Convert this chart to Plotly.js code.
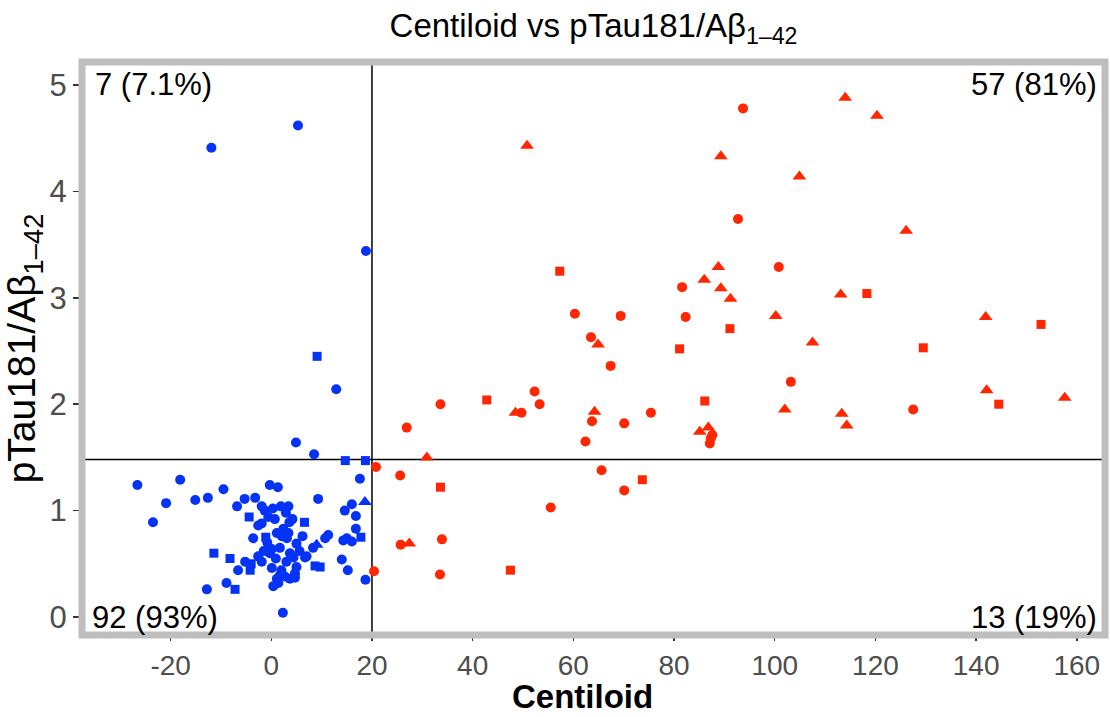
<!DOCTYPE html>
<html>
<head>
<meta charset="utf-8">
<script src="https://cdn.plot.ly/plotly-3.0.1.min.js"></script>
<style>html,body{margin:0;padding:0;background:#fff;}#chart{width:1110px;height:717px;}</style>
</head>
<body>
<div id="chart"></div>
<script>
// ---- data (Centiloid, pTau181/Abeta1-42) ----
const blueCircleX = [-26.6,-18.1,-20.9,-23.5,-15.1,-12.6,-9.5,-6.8,-5.3,-3.2,-0.3,1.3,-1.9,1.9,3.4,2.9,-1.3,-0.6,0.7,-1.9,-2.6,3.6,9.3,16.0,14.6,16.8,17.6,16.8,-3.6,1.1,2.1,3.4,3.1,6.2,11.3,10.7,14.3,16.0,15.0,5.0,8.3,7.0,6.7,0.1,1.7,-0.3,-2.6,-1.9,3.7,4.4,-5.2,-6.6,0.1,5.0,4.7,14.0,15.2,18.7,1.7,2.7,1.1,3.7,4.7,0.4,1.4,-8.9,-12.8,2.3,0.3,2.4,-0.8,3.0,2.0,-1.5,4.2,0.9,5.6,-11.9,5.3,18.8,12.9,4.9,8.5];
const blueCircleY = [1.24,1.29,1.07,0.89,1.10,1.12,1.20,1.04,1.11,1.12,1.24,1.22,1.04,1.04,1.04,0.98,1.00,0.94,0.92,0.88,0.86,0.89,1.11,1.06,1.00,0.95,1.30,0.83,0.74,0.79,0.76,0.79,0.74,0.76,0.77,0.74,0.72,0.71,0.74,0.69,0.65,0.57,0.56,0.64,0.65,0.60,0.57,0.52,0.60,0.56,0.52,0.44,0.46,0.47,0.41,0.54,0.44,0.35,0.39,0.38,0.36,0.36,0.37,0.29,0.32,0.32,0.26,0.04,1.02,0.83,0.70,0.52,0.44,0.62,0.92,0.55,0.62,4.41,4.62,3.44,2.14,1.64,1.53];
const blueSquareX = [14.7,18.7,-4.4,6.6,17.8,-1.1,-8.2,-4.2,8.7,9.7,-11.4,-7.2,-4.0,9.1];
const blueSquareY = [1.47,1.47,0.94,0.89,0.75,0.75,0.55,0.44,0.48,0.47,0.60,0.26,0.50,2.45];
const blueTriangleX = [18.6,9.0];
const blueTriangleY = [1.08,0.68];

const redCircleX = [26.9,33.6,49.7,52.3,53.3,63.7,62.4,70.1,75.4,87.3,87.1,93.7,92.7,81.6,60.3,69.4,82.3,63.5,67.4,100.8,103.2,127.5,87.6,20.8,25.6,55.5,65.6,70.1,25.7,33.9,20.4,33.5];
const redCircleY = [1.78,2.00,1.92,2.12,2.00,1.84,1.65,1.82,1.92,1.68,1.63,4.78,3.74,3.10,2.85,2.83,2.82,2.63,2.36,3.29,2.21,1.95,1.71,1.41,1.33,1.03,1.38,1.19,0.68,0.73,0.43,0.40];
const redSquareX = [42.8,86.1,57.3,91.1,81.1,118.3,129.5,152.9,144.5,33.6,73.7,47.5];
const redSquareY = [2.04,2.03,3.25,2.71,2.52,3.04,2.53,2.75,2.00,1.22,1.29,0.44];
const redTriangleX = [48.5,64.2,85.1,86.8,30.9,50.8,89.3,88.8,86.0,89.3,91.2,64.9,114.0,120.3,104.9,126.1,113.1,100.2,107.5,141.9,102.0,113.3,114.3,142.1,157.6,27.4];
const redTriangleY = [1.92,1.93,1.74,1.78,1.50,4.43,4.33,3.29,3.17,3.09,2.99,2.56,4.88,4.71,4.14,3.63,3.03,2.83,2.58,2.82,1.95,1.91,1.80,2.13,2.06,0.69];

const xTicks = [-20,0,20,40,60,80,100,120,140,160];
const yTicks = [0,1,2,3,4,5];
const thresholdX = 20;
const thresholdY = 1.48;
const quadrantLabels = ["7 (7.1%)","57 (81%)","92 (93%)","13 (19%)"];
const xTitle = "<b>Centiloid</b>";
const yTitle = "pTau181/Aβ<sub>1–42</sub>";

const BLUE = "#0433f5";
const RED = "#ff2600";
const FONT = "Liberation Sans, Arial, Helvetica, sans-serif";

function tr(x, y, color, symbol, size) {
  return {x: x, y: y, type: "scatter", mode: "markers", hoverinfo: "skip",
    marker: {color: color, symbol: symbol, size: size, line: {width: 0}}, showlegend: false};
}

const data = [
  tr(blueCircleX, blueCircleY, BLUE, "circle", 10),
  tr(blueSquareX, blueSquareY, BLUE, "square", 9),
  tr(blueTriangleX, blueTriangleY, BLUE, "triangle-up", 12),
  tr(redCircleX, redCircleY, RED, "circle", 10),
  tr(redSquareX, redSquareY, RED, "square", 9),
  tr(redTriangleX, redTriangleY, RED, "triangle-up", 12)
];

const cornerFont = {family: FONT, size: 31, color: "#000"};
const layout = {
  width: 1110, height: 717,
  margin: {l: 82, r: 5, t: 62, b: 82},
  paper_bgcolor: "#fff", plot_bgcolor: "#fff",
  font: {family: FONT},
  title: {text: "Centiloid vs pTau181/Aβ<sub>1–42</sub>", font: {family: FONT, size: 33, color: "#000"},
          x: 0.5, xref: "paper", xanchor: "center", y: 0.965, yref: "container", yanchor: "middle"},
  xaxis: {range: [-37.6, 165.6], tickvals: xTicks, ticktext: xTicks.map(String),
          showgrid: false, zeroline: false, showline: false,
          ticks: "outside", ticklen: 5, tickwidth: 1.5, tickcolor: "#333",
          tickfont: {family: FONT, size: 28, color: "#4d4d4d"}},
  yaxis: {range: [-0.169, 5.216], tickvals: yTicks, ticktext: yTicks.map(String),
          showgrid: false, zeroline: false, showline: false,
          ticks: "outside", ticklen: 8, tickwidth: 1.5, tickcolor: "#333",
          tickfont: {family: FONT, size: 31, color: "#4d4d4d"},
          title: {text: yTitle, font: {family: FONT, size: 39, color: "#000"}, standoff: 6}},
  shapes: [
    {type: "line", xref: "x", yref: "paper", x0: thresholdX, x1: thresholdX, y0: 0, y1: 1, layer: "below", line: {color: "#000", width: 1.5}},
    {type: "line", xref: "paper", yref: "y", x0: 0, x1: 1, y0: thresholdY, y1: thresholdY, layer: "below", line: {color: "#000", width: 1.5}},
    {type: "rect", xref: "paper", yref: "paper", x0: 0, x1: 1, y0: 0, y1: 1, layer: "above", line: {color: "#bebebe", width: 7}}
  ],
  annotations: [
    {text: quadrantLabels[0], xref: "paper", yref: "y", x: 0.011, y: 5.0, xanchor: "left", yanchor: "middle", showarrow: false, font: cornerFont},
    {text: quadrantLabels[1], xref: "paper", yref: "y", x: 0.994, y: 5.0, xanchor: "right", yanchor: "middle", showarrow: false, font: cornerFont},
    {text: quadrantLabels[2], xref: "paper", yref: "y", x: 0.008, y: 0.0, xanchor: "left", yanchor: "middle", showarrow: false, font: cornerFont},
    {text: quadrantLabels[3], xref: "paper", yref: "y", x: 0.994, y: 0.0, xanchor: "right", yanchor: "middle", showarrow: false, font: cornerFont},
    {text: xTitle, xref: "paper", yref: "paper", x: 0.489, y: -0.1431, xanchor: "center", yanchor: "bottom", showarrow: false,
     font: {family: FONT, size: 33, color: "#000"}}
  ]
};

Plotly.newPlot("chart", data, layout, {displayModeBar: false, staticPlot: true});
</script>
</body>
</html>
